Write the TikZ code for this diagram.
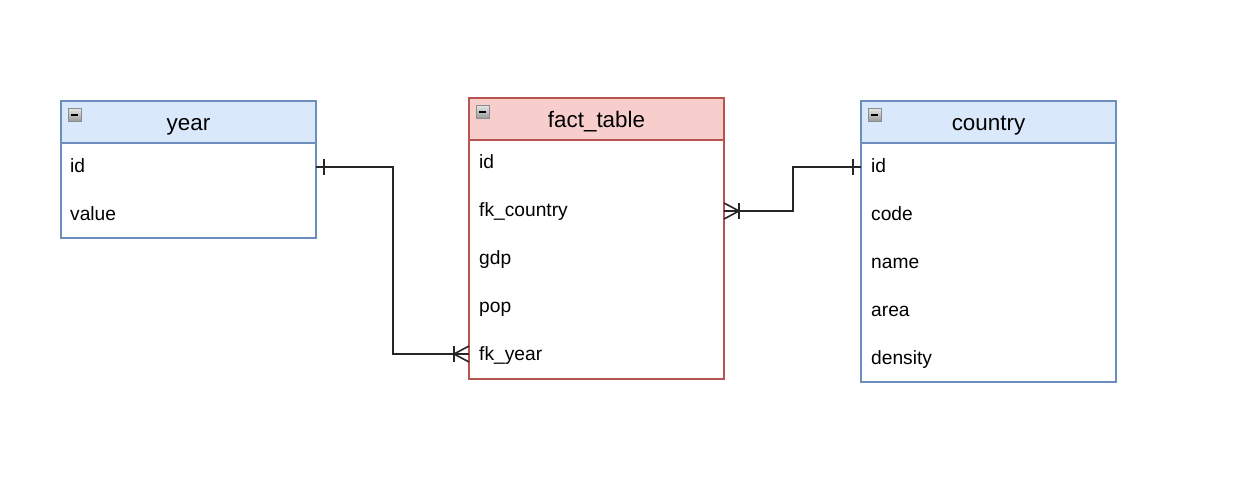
\documentclass[tikz,border=0pt]{standalone}
\usepackage{fontspec}
\setmainfont{Liberation Sans}
\begin{document}
\begin{tikzpicture}[x=1pt,y=-1pt,
  hdr/.style={draw, line width=1.8pt, outer sep=0pt, minimum width=255pt, minimum height=42pt, anchor=north west, inner sep=0pt, text height=16pt, text depth=0pt, font=\fontsize{22.4}{26}\selectfont},
  body/.style={draw, line width=1.8pt, outer sep=0pt, minimum width=255pt, anchor=north west, inner sep=0pt, fill=white},
  blueT/.style={draw=tblue, fill=fblue},
  redT/.style={draw=tred, fill=fred},
  rowtxt/.style={anchor=base west, inner sep=0pt, font=\fontsize{19.2}{22}\selectfont},
  conn/.style={draw=black!85, line width=1.6pt},
  icon/.style={draw=black!45, line width=0.8pt, top color=black!10, bottom color=black!40, minimum size=13pt, inner sep=0pt, anchor=north west}
]
\definecolor{fblue}{HTML}{DAE8FC}
\definecolor{tblue}{HTML}{6C8EBF}
\definecolor{fred}{HTML}{F8CECC}
\definecolor{tred}{HTML}{B85450}
\useasboundingbox[fill=white] (0,0) rectangle (1235,499);

% year table
\node[body, blueT, fill=white, minimum height=95pt] (yB) at (61,143) {};
\node[hdr, blueT] (yH) at (61,101) {year};
\node[icon] (yI) at (68,108) {};
\draw[line width=1.4pt] ([xshift=-3.5pt]yI.center) -- ([xshift=3.5pt]yI.center);
\node[rowtxt] (yId) at (70,172) {id};
\node[rowtxt] (yVal) at (70,220) {value};

% fact table
\node[body, redT, fill=white, minimum height=239pt] (fB) at (469,140) {};
\node[hdr, redT] (fH) at (469,98) {fact\_table};
\node[icon] (fI) at (476,105) {};
\draw[line width=1.4pt] ([xshift=-3.5pt]fI.center) -- ([xshift=3.5pt]fI.center);
\node[rowtxt] (fId) at (479,168) {id};
\node[rowtxt] (fCo) at (479,216) {fk\_country};
\node[rowtxt] (fGdp) at (479,264) {gdp};
\node[rowtxt] (fPop) at (479,312) {pop};
\node[rowtxt] (fYr) at (479,360) {fk\_year};

% country table
\node[body, blueT, fill=white, minimum height=239pt] (cB) at (861,143) {};
\node[hdr, blueT] (cH) at (861,101) {country};
\node[icon] (cI) at (868,108) {};
\draw[line width=1.4pt] ([xshift=-3.5pt]cI.center) -- ([xshift=3.5pt]cI.center);
\node[rowtxt] (cId) at (871,172) {id};
\node[rowtxt] (cCode) at (871,220) {code};
\node[rowtxt] (cName) at (871,268) {name};
\node[rowtxt] (cArea) at (871,316) {area};
\node[rowtxt] (cDen) at (871,364) {density};

% connector year.id -> fact.fk_year
\coordinate (p1) at (yB.east |- 0,167);
\coordinate (p2) at (fB.west |- 0,354);
\coordinate (m1) at (393,0);
\draw[conn] (p1) -| (m1 |- p2) -- (p2);
\draw[conn] (p1) ++(8,-8) -- ++(0,16);
\draw[conn] (p2) ++(0,-8) -- ++(-15,8) -- ++(15,8);
\draw[conn] (p2) ++(-15,-8) -- ++(0,16);

% connector fact.fk_country -> country.id
\coordinate (q1) at (fB.east |- 0,211);
\coordinate (q2) at (cB.west |- 0,167);
\coordinate (m2) at (793,0);
\draw[conn] (q1) -| (m2 |- q2) -- (q2);
\draw[conn] (q2) ++(-8,-8) -- ++(0,16);
\draw[conn] (q1) ++(0,-8) -- ++(15,8) -- ++(-15,8);
\draw[conn] (q1) ++(15,-8) -- ++(0,16);
\end{tikzpicture}
\end{document}
